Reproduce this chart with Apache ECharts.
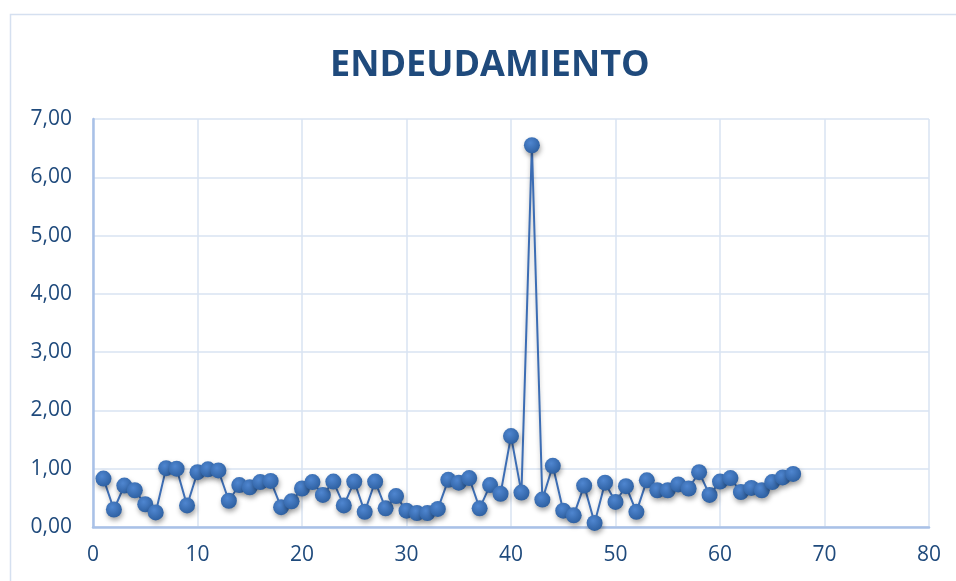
<!DOCTYPE html>
<html>
<head>
<meta charset="utf-8">
<script src="https://cdn.jsdelivr.net/npm/echarts@6/dist/echarts.min.js"></script>
<style>
html,body{margin:0;padding:0;background:#fff;}
#chart{width:956px;height:581px;}
</style>
</head>
<body>
<div id="chart"></div>
<script>
var titleText = 'ENDEUDAMIENTO';
var xValues = [1,2,3,4,5,6,7,8,9,10,11,12,13,14,15,16,17,18,19,20,21,22,23,24,25,26,27,28,29,30,31,32,33,34,35,36,37,38,39,40,41,42,43,44,45,46,47,48,49,50,51,52,53,54,55,56,57,58,59,60,61,62,63,64,65,66,67];
var yValues = [0.83,0.30,0.71,0.63,0.39,0.25,1.01,1.00,0.37,0.94,0.99,0.97,0.45,0.72,0.68,0.77,0.79,0.34,0.44,0.66,0.77,0.55,0.78,0.37,0.78,0.26,0.78,0.32,0.53,0.28,0.24,0.24,0.31,0.81,0.76,0.84,0.32,0.72,0.57,1.56,0.59,6.55,0.47,1.05,0.28,0.20,0.71,0.07,0.76,0.43,0.70,0.26,0.80,0.63,0.63,0.73,0.66,0.94,0.55,0.78,0.84,0.60,0.67,0.63,0.77,0.85,0.91];
var xTicks = {min:0, max:80, interval:10};
var yTicks = {min:0, max:7, interval:1};

var data = xValues.map(function(x,i){return [x, yValues[i]];});
var chart = echarts.init(document.getElementById('chart'), null, {renderer:'canvas'});
var labelColor = '#1f4a7c';
chart.setOption({
  animation:false,
  backgroundColor:'#ffffff',
  graphic:[{
    type:'rect', silent:true, z:-10,
    shape:{x:10.5, y:14.5, width:1000, height:1000},
    style:{fill:'none', stroke:'#d5e0f0', lineWidth:1.5}
  }],
  title:{
    text:titleText, left:325, top:43,
    textStyle:{fontFamily:'Open Sans', fontWeight:'bold', fontSize:36, color:labelColor}
  },
  grid:{left:93, right:27, top:119, bottom:54, containLabel:false},
  xAxis:{
    type:'value', min:xTicks.min, max:xTicks.max, interval:xTicks.interval,
    axisLine:{show:true, onZero:false, lineStyle:{color:'#a9c1e7', width:2.5}},
    axisTick:{show:false},
    splitLine:{show:true, lineStyle:{color:'#d9e3f2', width:1.5}},
    axisLabel:{color:labelColor, fontFamily:'Open Sans', fontSize:21, margin:18}
  },
  yAxis:{
    type:'value', min:yTicks.min, max:yTicks.max, interval:yTicks.interval,
    axisLine:{show:true, onZero:false, lineStyle:{color:'#a9c1e7', width:2.5}},
    axisTick:{show:false},
    splitLine:{show:true, lineStyle:{color:'#d9e3f2', width:1.5}},
    axisLabel:{color:labelColor, fontFamily:'Open Sans', fontSize:21, margin:21,
      formatter:function(v){return v.toFixed(2).replace('.', ',');}}
  },
  series:[{
    type:'line', data:data, symbol:'circle', symbolSize:16,
    lineStyle:{color:'#3c6db4', width:2, shadowColor:'rgba(0,0,0,0.25)', shadowBlur:4, shadowOffsetY:2},
    itemStyle:{
      color:new echarts.graphic.RadialGradient(0.4,0.35,0.7,[{offset:0,color:'#4f86d0'},{offset:1,color:'#2c5e9f'}]),
      shadowColor:'rgba(0,0,0,0.35)', shadowBlur:5, shadowOffsetX:1, shadowOffsetY:3
    }
  }]
});
</script>
</body>
</html>
